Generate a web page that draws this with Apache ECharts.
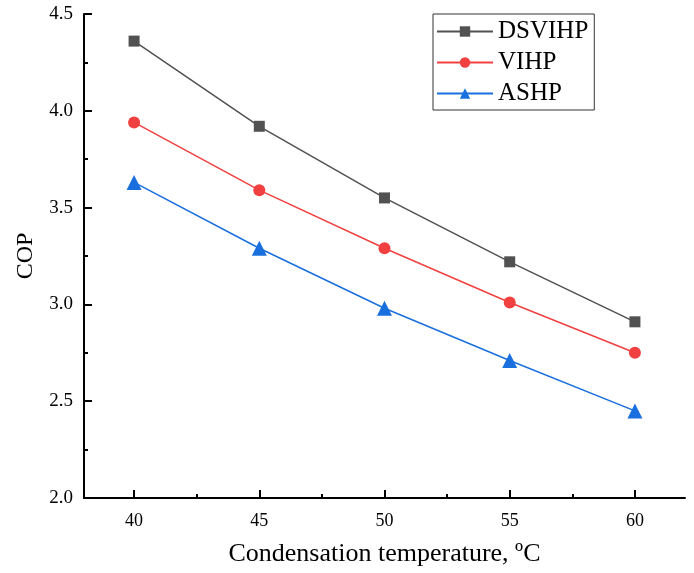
<!DOCTYPE html>
<html><head><meta charset="utf-8">
<script src="https://cdn.jsdelivr.net/npm/echarts@6/dist/echarts.min.js"></script>
<style>html,body{margin:0;padding:0;background:#fff}#c{width:694px;height:573px}</style>
</head><body><div id="c"></div>
<script>
var temps = [40, 45, 50, 55, 60];
var minorTemps = [42.5, 47.5, 52.5, 57.5];
var dsvihp = [4.36, 3.92, 3.55, 3.22, 2.91];
var vihp = [3.94, 3.59, 3.29, 3.01, 2.75];
var ashp = [3.63, 3.29, 2.98, 2.71, 2.45];
var seriesNames = ['DSVIHP', 'VIHP', 'ASHP'];
var xTitle = 'Condensation temperature, ºC';
var yTitle = 'COP';

var font = '"Liberation Serif", "Times New Roman", serif';
function pairs(v){ return temps.map(function(t,i){ return [t, v[i]]; }); }
function mk(name, data, color, symbol, size){
  return { name: name, type: 'line', data: pairs(data), symbol: symbol, symbolSize: size,
    showAllSymbol: true, itemStyle: {color: color}, lineStyle: {color: color, width: 1.5}, z: 3 };
}
var chart = echarts.init(document.getElementById('c'), null, {renderer: 'canvas'});
chart.setOption({
  animation: false,
  backgroundColor: '#fff',
  grid: {left: 84, top: 14, right: 9, bottom: 75, containLabel: false},
  legend: {
    left: 433, top: 14, orient: 'vertical', itemWidth: 56, itemHeight: 13, itemGap: 6,
    padding: [5, 6, 4, 3], borderColor: '#333', borderWidth: 1,
    textStyle: {fontFamily: font, fontSize: 25, color: '#000'},
    data: seriesNames
  },
  xAxis: [{
    type: 'value', min: 38, max: 62,
    name: xTitle, nameLocation: 'middle', nameGap: 43,
    nameTextStyle: {fontFamily: font, fontSize: 26, color: '#000'},
    axisLine: {show: true, onZero: false, lineStyle: {color: '#000', width: 2}},
    axisTick: {show: true, inside: true, length: 8, customValues: temps, lineStyle: {color: '#000', width: 2}},
    axisLabel: {fontFamily: font, fontSize: 18, color: '#000', margin: 14, customValues: temps},
    splitLine: {show: false}
  }, {
    type: 'value', min: 38, max: 62, position: 'bottom',
    axisLine: {show: false},
    axisTick: {show: true, inside: true, length: 4, customValues: minorTemps, lineStyle: {color: '#000', width: 2}},
    axisLabel: {show: false},
    splitLine: {show: false}
  }],
  yAxis: {
    type: 'value', min: 2.0, max: 4.5, interval: 0.5,
    name: yTitle, nameLocation: 'middle', nameGap: 46,
    nameTextStyle: {fontFamily: font, fontSize: 24, color: '#000'},
    axisLine: {show: true, lineStyle: {color: '#000', width: 2}},
    axisTick: {show: true, inside: true, length: 8, lineStyle: {color: '#000', width: 2}},
    minorTick: {show: true, splitNumber: 2, length: 4, lineStyle: {color: '#000', width: 2}},
    axisLabel: {fontFamily: font, fontSize: 19, color: '#000', margin: 11,
      formatter: function(v){ return v.toFixed(1); }},
    splitLine: {show: false}
  },
  series: [
    mk(seriesNames[0], dsvihp, '#515151', 'rect', 11),
    mk(seriesNames[1], vihp, '#F14040', 'circle', 12),
    mk(seriesNames[2], ashp, '#1A6FDF', 'triangle', 15)
  ]
});
</script></body></html>
